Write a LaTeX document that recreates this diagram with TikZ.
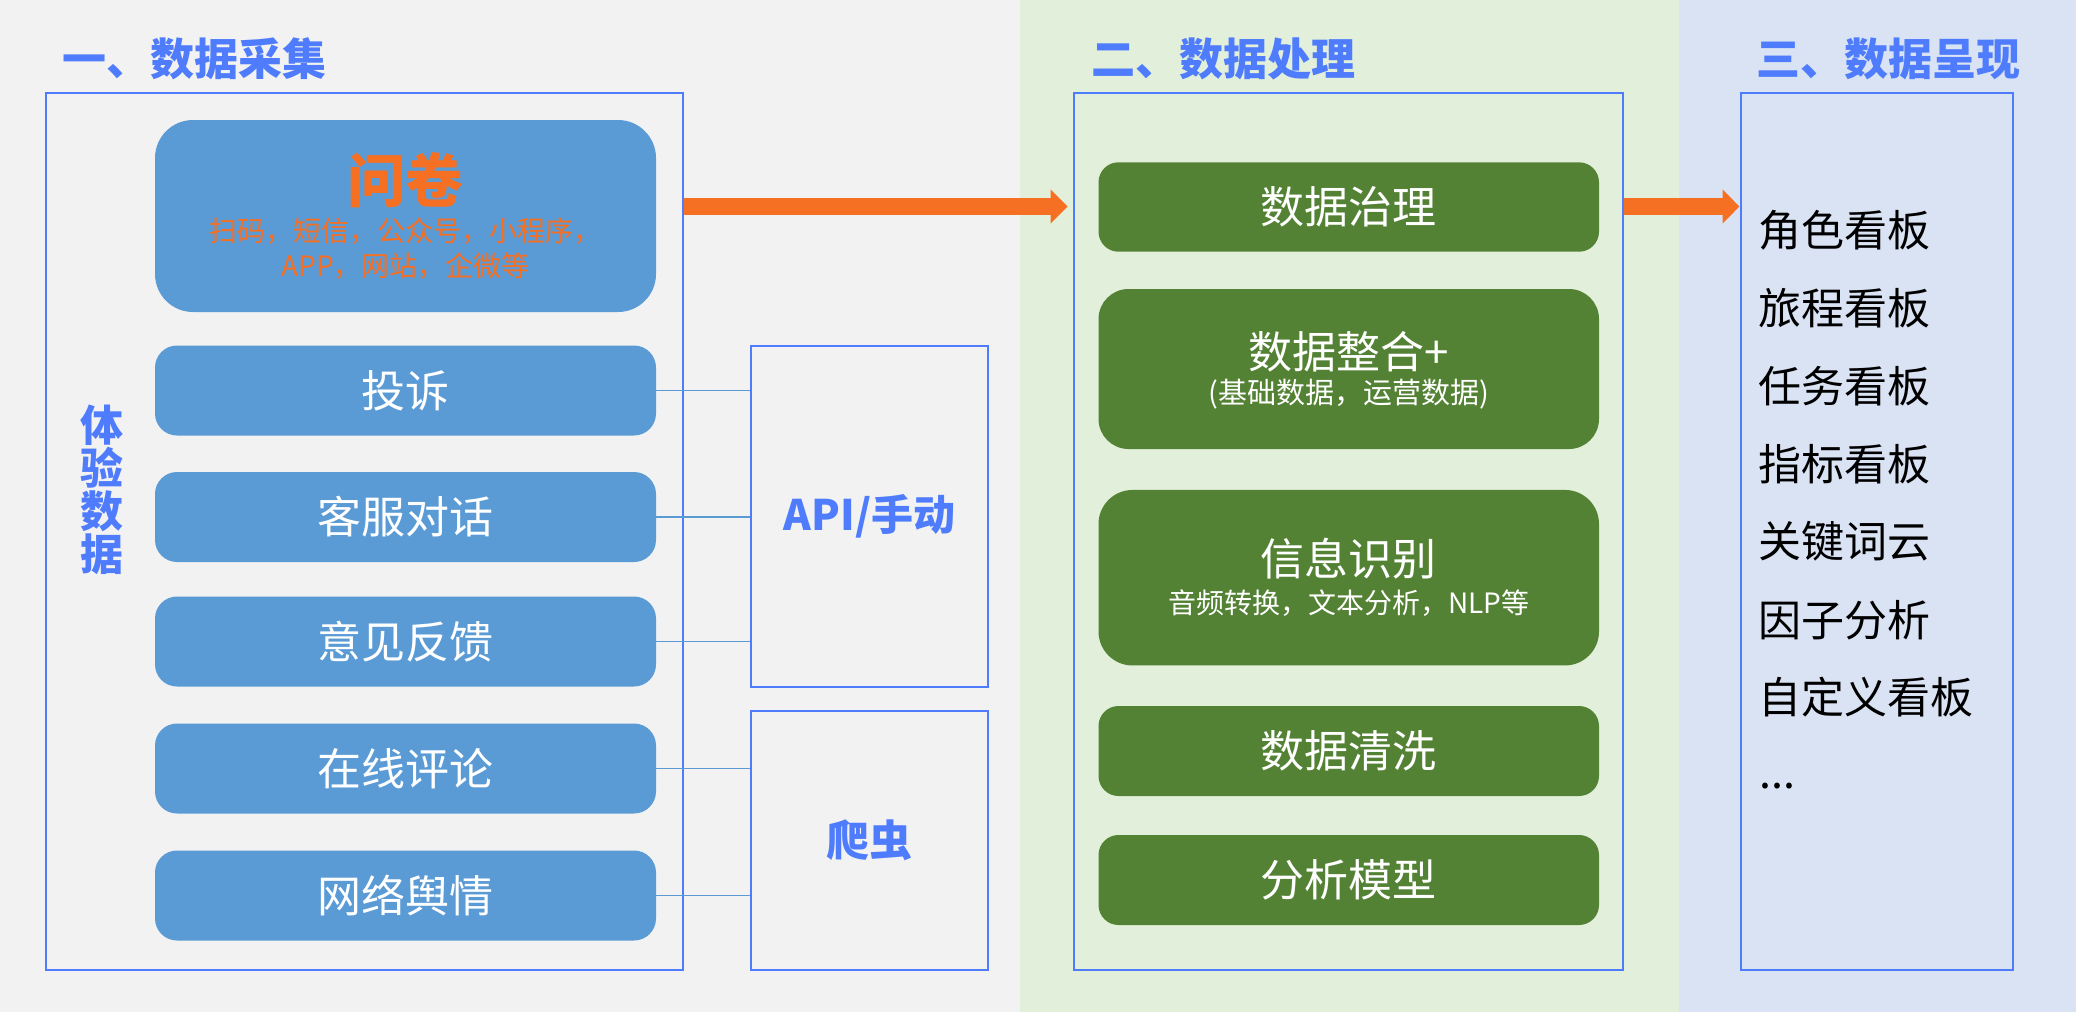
\documentclass[tikz,border=0pt]{standalone}
\usepackage{fontspec}
\setmainfont{Noto Sans CJK SC}
\usetikzlibrary{arrows.meta}
\definecolor{bgL}{HTML}{F2F2F2}
\definecolor{bgM}{HTML}{E2EFDA}
\definecolor{bgR}{HTML}{DAE3F3}
\definecolor{tblue}{RGB}{78,124,252}
\definecolor{sblue}{HTML}{5B9BD5}
\definecolor{dgreen}{HTML}{548235}
\definecolor{orng}{RGB}{246,112,36}
\newcommand\myfs[1]{\fontsize{#1}{#1}\selectfont}
\begin{document}
\begin{tikzpicture}[x=0.5pt,y=-0.5pt,
  frame/.style={draw=tblue, line width=1pt, inner sep=0},
  blu/.style={fill=sblue, rounded corners=11pt, minimum width=250.5pt, minimum height=45pt, text=white, font=\myfs{22}, inner sep=0},
  grn/.style={fill=dgreen, rounded corners=10pt, minimum width=250.25pt, text=white, font=\myfs{22}, inner sep=0},
  ttl/.style={anchor=west, inner sep=0, text=tblue, font=\bfseries\myfs{22}},
  item/.style={anchor=west, inner sep=0, text=black, font=\myfs{21.5}},
  wtxt/.style={text=white, inner sep=0},
  link/.style={draw=sblue, line width=0.75pt},
  flow/.style={draw=orng, line width=8.5pt, -{Triangle[length=8.5pt,width=16.5pt]}}]
\useasboundingbox (0,0) rectangle (2076,1012);
\fill[bgL] (0,0) rectangle (1020,1012);
\fill[bgM] (1020,0) rectangle (1679,1012);
\fill[bgR] (1679,0) rectangle (2076,1012);

% titles
\node[ttl] (t1) at (62,59) {一、数据采集};
\node[ttl] (t2) at (1091,59) {二、数据处理};
\node[ttl] (t3) at (1756,59) {三、数据呈现};

% left section
\node[frame, minimum width=318.5pt, minimum height=438.5pt] (lbox) at (364.5,531.5) {};
\node[text=tblue, font=\bfseries\myfs{21.5}, align=center, inner sep=0] (tyjs) at (102,490) {体\\验\\数\\据};
\node[blu, rounded corners=19pt, minimum height=96pt] (wj) at (405.5,216) {};
\node[text=orng, font=\bfseries\myfs{29}, inner sep=0] (wjt) at (405.5,180) {问卷};
\node[text=orng, font=\myfs{14}, inner sep=0] (wjs1) at (405.5,231.5) {扫码，短信，公众号，小程序，};
\node[text=orng, font=\myfs{14}, inner sep=0] (wjs2) at (405.5,266.5) {APP，网站，企微等};
\node[blu] (ts) at (405.5,390.5) {投诉};
\node[blu] (kf) at (405.5,517) {客服对话};
\node[blu] (yj) at (405.5,641.5) {意见反馈};
\node[blu] (zx) at (405.5,768.5) {在线评论};
\node[blu] (wl) at (405.5,895.5) {网络舆情};

\node[frame, minimum width=118.5pt, minimum height=170.5pt, text=tblue, font=\bfseries\myfs{21}] (api) at (869.5,516.5) {API/手动};
\node[frame, minimum width=118.5pt, minimum height=129.5pt, text=tblue, font=\bfseries\myfs{21.5}] (pc) at (869.5,840.5) {爬虫};

\draw[link] (ts.east) -- (ts.east -| api.west);
\draw[link] (kf.east) -- (kf.east -| api.west);
\draw[link] (yj.east) -- (yj.east -| api.west);
\draw[link] (zx.east) -- (zx.east -| pc.west);
\draw[link] (wl.east) -- (wl.east -| pc.west);

% middle section
\node[frame, minimum width=274.5pt, minimum height=438.5pt] (mbox) at (1348,531.5) {};
\node[grn, minimum height=44.7pt] (g1) at (1348.75,207) {数据治理};
\node[grn, rounded corners=15pt, minimum height=80pt] (g2) at (1348.75,369) {};
\node[wtxt, font=\myfs{22}] (g2a) at (1348.75,352) {数据整合+};
\node[wtxt, font=\myfs{14.5}] (g2b) at (1348.75,394) {(基础数据，运营数据)};
\node[grn, rounded corners=17pt, minimum height=87.75pt] (g3) at (1348.75,577.7) {};
\node[wtxt, font=\myfs{22}] (g3a) at (1348.75,559) {信息识别};
\node[wtxt, font=\myfs{14}] (g3b) at (1348.75,603) {音频转换，文本分析，NLP等};
\node[grn, minimum height=45pt] (g4) at (1348.75,751) {数据清洗};
\node[grn, minimum height=45pt] (g5) at (1348.75,880) {分析模型};

% right section
\node[frame, minimum width=136pt, minimum height=438.5pt] (rbox) at (1876.5,531.5) {};
\node[item] (r1) at (1758,230) {角色看板};
\node[item] (r2) at (1758,308) {旅程看板};
\node[item] (r3) at (1758,386) {任务看板};
\node[item] (r4) at (1758,464) {指标看板};
\node[item] (r5) at (1758,541) {关键词云};
\node[item] (r6) at (1758,620) {因子分析};
\node[item] (r7) at (1758,697) {自定义看板};
\node[item, anchor=base west] (r8) at (1759,788) {...};

% flow arrows
\coordinate (ay) at (0,206.5);
\draw[flow, shorten >=2.4pt] (lbox.east |- ay) -- (mbox.west |- ay);
\draw[flow] (mbox.east |- ay) -- (rbox.west |- ay);
\end{tikzpicture}
\end{document}
